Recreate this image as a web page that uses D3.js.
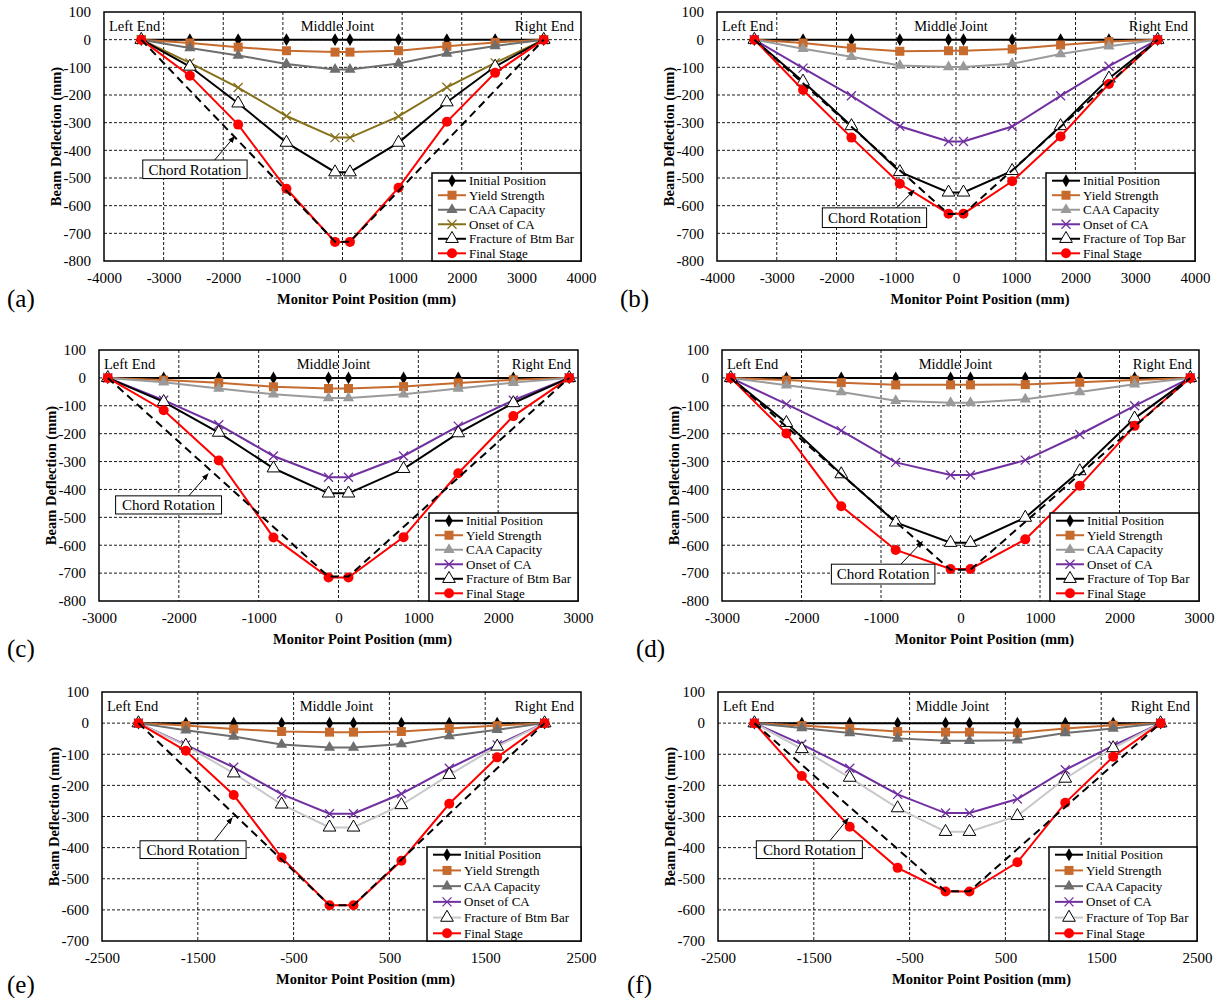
<!DOCTYPE html>
<html><head><meta charset="utf-8">
<script src="https://cdn.jsdelivr.net/npm/d3@7"></script>
<style>body{margin:0;background:#fff}svg{display:block}text{font-family:"Liberation Serif","Times New Roman",serif;fill:#000}</style>
</head><body><svg id="c" width="1221" height="998"></svg>
<script>
// ---------------- data ----------------
const posAB = [-3375,-2560,-1750,-940,-125,125,940,1750,2560,3375];
const posCD = [-2890,-2190,-1500,-815,-125,125,815,1500,2190,2890];
const posEF = [-2120,-1625,-1125,-625,-125,125,625,1125,1625,2120];
const xTicksAB = [-4000,-3000,-2000,-1000,0,1000,2000,3000,4000];
const xTicksCD = [-3000,-2000,-1000,0,1000,2000,3000];
const xTicksEF = [-2500,-1500,-500,500,1500,2500];
const yTicks8 = [-800,-700,-600,-500,-400,-300,-200,-100,0,100];
const yTicks7 = [-700,-600,-500,-400,-300,-200,-100,0,100];
const initialPos = [0,0,0,0,0,0,0,0,0,0];

const a_yield = [0,-12,-27,-40,-45,-45,-40,-24,-10,0];
const a_caa = [0,-30,-57,-88,-108,-108,-86,-50,-23,0];
const a_onset = [0,-84,-173,-276,-354,-354,-277,-172,-84,0];
const a_fracture = [0,-97,-230,-372,-479,-479,-372,-226,-97,0];
const a_final = [0,-130,-307,-539,-731,-731,-535,-297,-120,0];
const a_chord = [0,-730,-730,0];

const b_yield = [0,-12,-30,-42,-40,-40,-34,-19,-7,0];
const b_caa = [0,-33,-62,-93,-99,-99,-87,-52,-24,0];
const b_onset = [0,-103,-203,-313,-368,-368,-314,-203,-96,0];
const b_fracture = [0,-151,-312,-478,-552,-552,-474,-312,-140,0];
const b_final = [0,-182,-354,-521,-629,-629,-512,-350,-160,0];
const b_chord = [0,-630,-630,0];

const c_yield = [0,-8,-17,-32,-38,-38,-31,-18,-7,0];
const c_caa = [0,-16,-38,-59,-72,-72,-59,-38,-17,0];
const c_onset = [0,-80,-168,-280,-356,-356,-280,-173,-80,0];
const c_fracture = [0,-86,-196,-324,-414,-414,-326,-198,-90,0];
const c_final = [0,-116,-296,-572,-716,-716,-571,-342,-137,0];
const c_chord = [0,-712,-712,0];

const d_yield = [0,-8,-17,-25,-25,-25,-24,-16,-8,0];
const d_caa = [0,-26,-51,-82,-89,-89,-77,-51,-23,0];
const d_onset = [0,-94,-189,-303,-348,-348,-295,-203,-100,0];
const d_fracture = [0,-161,-345,-518,-591,-591,-501,-334,-145,0];
const d_final = [0,-199,-460,-617,-685,-685,-579,-387,-172,0];
const d_chord = [0,-688,-688,0];

const e_yield = [0,-8,-19,-27,-29,-29,-27,-17,-8,0];
const e_caa = [0,-23,-43,-69,-78,-78,-67,-41,-21,0];
const e_onset = [0,-70,-142,-228,-291,-291,-227,-145,-70,0];
const e_fracture = [0,-72,-161,-261,-335,-335,-263,-166,-75,0];
const e_final = [0,-89,-231,-432,-585,-585,-442,-259,-110,0];
const e_chord = [0,-585,-585,0];

const f_yield = [0,-8,-17,-27,-29,-29,-31,-17,-7,0];
const f_caa = [0,-16,-32,-49,-57,-57,-55,-32,-17,0];
const f_onset = [0,-68,-145,-229,-289,-289,-244,-150,-72,0];
const f_fracture = [0,-83,-175,-273,-349,-349,-298,-178,-80,0];
const f_final = [0,-170,-333,-465,-541,-541,-447,-256,-108,0];
const f_chord = [0,-540,-540,0];

const legendNames = ["Initial Position","Yield Strength","CAA Capacity","Onset of CA"];
const fractureBtm = "Fracture of Btm Bar", fractureTop = "Fracture of Top Bar", finalName = "Final Stage";

// ---------------- layout / styles ----------------
const C = {orange:"#c66a2e", dgray:"#6e6e6e", lgray:"#9a9a9a", olive:"#86701a", purple:"#7030a0", fgray:"#c8c8c8", red:"#ff0000"};
const panels = [
 {tag:"(a)", L:104,R:581,T:12,B:261, tx:7,ty:307, pos:posAB, xt:xTicksAB, yt:yTicks8,
  vals:[initialPos,a_yield,a_caa,a_onset,a_fracture,a_final], chord:a_chord, frName:fractureBtm,
  caa:C.dgray, onset:C.olive, fr:"#000", note:[-3350,-1600,-435,-502,-2144,-435,-1811,-350], lw:149, lh:88},
 {tag:"(b)", L:717,R:1195,T:12,B:261, tx:620,ty:307, pos:posAB, xt:xTicksAB, yt:yTicks8,
  vals:[initialPos,b_yield,b_caa,b_onset,b_fracture,b_final], chord:b_chord, frName:fractureTop,
  caa:C.lgray, onset:C.purple, fr:"#000", note:[-2237,-492,-608,-679,-995,-608,-702,-544], lw:149, lh:88},
 {tag:"(c)", L:99,R:578,T:350,B:601, tx:7,ty:657, pos:posCD, xt:xTicksCD, yt:yTicks8,
  vals:[initialPos,c_yield,c_caa,c_onset,c_fracture,c_final], chord:c_chord, frName:fractureBtm,
  caa:C.lgray, onset:C.purple, fr:"#000", note:[-2792,-1465,-423,-488,-1875,-423,-1634,-344], lw:149, lh:88},
 {tag:"(d)", L:722,R:1199,T:350,B:601, tx:636,ty:657, pos:posCD, xt:xTicksCD, yt:yTicks8,
  vals:[initialPos,d_yield,d_caa,d_onset,d_fracture,d_final], chord:d_chord, frName:fractureTop,
  caa:C.lgray, onset:C.purple, fr:"#000", note:[-1624,-322,-668,-739,-750,-668,-479,-587], lw:149, lh:88},
 {tag:"(e)", L:102,R:581,T:692,B:941, tx:7,ty:993, pos:posEF, xt:xTicksEF, yt:yTicks7,
  vals:[initialPos,e_yield,e_caa,e_onset,e_fracture,e_final], chord:e_chord, frName:fractureBtm,
  caa:C.dgray, onset:C.purple, fr:C.fgray, note:[-2103,-996,-378,-435,-1329,-378,-1141,-304], lw:154, lh:94},
 {tag:"(f)", L:718,R:1197,T:692,B:941, tx:627,ty:993, pos:posEF, xt:xTicksEF, yt:yTicks7,
  vals:[initialPos,f_yield,f_caa,f_onset,f_fracture,f_final], chord:f_chord, frName:fractureTop,
  caa:C.dgray, onset:C.purple, fr:C.fgray, note:[-2100,-993,-378,-435,-1332,-378,-1140,-306], lw:148, lh:94}
];

const svg = d3.select("#c");
svg.append("defs").append("marker").attr("id","arr").attr("viewBox","0 0 10 10")
  .attr("refX",9).attr("refY",5).attr("markerWidth",7).attr("markerHeight",7).attr("orient","auto")
  .append("path").attr("d","M0,1 L10,5 L0,9 Z").attr("fill","#000");

function marker(g, type, cx, cy, color) {
  if (type==="diamond") g.append("path").attr("d", d3.symbol(d3.symbolDiamond, 48)()).attr("transform",`translate(${cx},${cy})`).attr("fill",color);
  else if (type==="square") g.append("rect").attr("x",cx-4.5).attr("y",cy-4.5).attr("width",9).attr("height",9).attr("fill",color);
  else if (type==="tri") g.append("path").attr("d", d3.symbol(d3.symbolTriangle, 55)()).attr("transform",`translate(${cx},${cy})`).attr("fill",color);
  else if (type==="otri") g.append("path").attr("d", d3.symbol(d3.symbolTriangle, 70)()).attr("transform",`translate(${cx},${cy})`).attr("fill","#fff").attr("stroke","#000").attr("stroke-width",1);
  else if (type==="x") g.append("path").attr("d",`M${cx-4.5},${cy-4.5}L${cx+4.5},${cy+4.5}M${cx-4.5},${cy+4.5}L${cx+4.5},${cy-4.5}`).attr("stroke",color).attr("stroke-width",1.3);
  else if (type==="circle") g.append("circle").attr("cx",cx).attr("cy",cy).attr("r",5).attr("fill",color);
}

panels.forEach(p => {
  const g = svg.append("g");
  const x = d3.scaleLinear().domain([p.xt[0], p.xt[p.xt.length-1]]).range([p.L,p.R]);
  const y = d3.scaleLinear().domain([p.yt[0], 100]).range([p.B,p.T]);
  // grid
  g.selectAll(".vg").data(p.xt.slice(1,-1)).join("line")
    .attr("x1",d=>x(d)).attr("x2",d=>x(d)).attr("y1",p.T).attr("y2",p.B)
    .attr("stroke","#000").attr("stroke-width",0.9).attr("stroke-dasharray","3,2");
  g.selectAll(".hg").data(p.yt.slice(1,-1)).join("line")
    .attr("y1",d=>y(d)).attr("y2",d=>y(d)).attr("x1",p.L).attr("x2",p.R)
    .attr("stroke","#000").attr("stroke-width",0.9).attr("stroke-dasharray","3,2");
  // axes labels
  const ax = g.append("g").attr("transform",`translate(0,${p.B})`)
    .call(d3.axisBottom(x).tickValues(p.xt).tickSize(0).tickPadding(11.5).tickFormat(d=>String(d)));
  const ay = g.append("g").attr("transform",`translate(${p.L},0)`)
    .call(d3.axisLeft(y).tickValues(p.yt).tickSize(0).tickPadding(13).tickFormat(d=>String(d)));
  [ax,ay].forEach(a=>{a.select(".domain").remove(); a.selectAll("text").attr("font-size",15).attr("font-family","Liberation Serif").attr("fill","#000");});
  g.append("text").attr("x",(p.L+p.R)/2+24).attr("y",p.B+43).attr("text-anchor","middle")
    .attr("font-size",14.5).attr("font-weight","bold").text("Monitor Point Position (mm)");
  g.append("text").attr("transform",`translate(${p.L-48},${(p.T+p.B)/2}) rotate(-90)`).attr("text-anchor","middle")
    .attr("dy","0.35em").attr("font-size",14.5).attr("font-weight","bold").text("Beam Deflection (mm)");
  g.append("text").attr("x",p.tx).attr("y",p.ty).attr("font-size",25).text(p.tag);
  // location labels
  g.append("text").attr("x",p.L+5).attr("y",p.T+19).attr("font-size",14.5).text("Left End");
  g.append("text").attr("x",x(0)-5).attr("y",p.T+19).attr("text-anchor","middle").attr("font-size",14.5).text("Middle Joint");
  g.append("text").attr("x",p.R-7).attr("y",p.T+19).attr("text-anchor","end").attr("font-size",14.5).text("Right End");

  const styles = [
    {c:"#000", m:"diamond", mc:"#000"},
    {c:C.orange, m:"square", mc:C.orange},
    {c:p.caa, m:"tri", mc:p.caa},
    {c:p.onset, m:"x", mc:p.onset},
    {c:p.fr, m:"otri", mc:"#000"},
    {c:C.red, m:"circle", mc:C.red}
  ];
  const line = d3.line().x(d=>x(d[0])).y(d=>y(d[1]));
  p.vals.forEach((vals,i)=>{
    const pts = p.pos.map((px,k)=>[px, vals[k]]);
    g.append("path").attr("d",line(pts)).attr("fill","none").attr("stroke",styles[i].c).attr("stroke-width",2);
    pts.forEach(pt=>marker(g, styles[i].m, x(pt[0]), y(pt[1]), styles[i].mc));
  });
  // chord rotation dashed line
  const chX = [p.pos[0], p.pos[4], p.pos[5], p.pos[9]];
  g.append("path").attr("d", line(chX.map((cx,k)=>[cx,p.chord[k]]))).attr("fill","none")
    .attr("stroke","#000").attr("stroke-width",2).attr("stroke-dasharray","8,5");
  // annotation
  const n = p.note;
  g.append("line").attr("x1",x(n[4])).attr("y1",y(n[5])).attr("x2",x(n[6])).attr("y2",y(n[7]))
    .attr("stroke","#000").attr("stroke-width",1).attr("marker-end","url(#arr)");
  g.append("rect").attr("x",x(n[0])).attr("y",y(n[2])).attr("width",x(n[1])-x(n[0])).attr("height",y(n[3])-y(n[2]))
    .attr("fill","#fff").attr("stroke","#000").attr("stroke-width",1);
  g.append("text").attr("x",(x(n[0])+x(n[1]))/2).attr("y",(y(n[2])+y(n[3]))/2).attr("dy","0.35em")
    .attr("text-anchor","middle").attr("font-size",15).text("Chord Rotation");
  // frame
  g.append("rect").attr("x",p.L).attr("y",p.T).attr("width",p.R-p.L).attr("height",p.B-p.T)
    .attr("fill","none").attr("stroke","#000").attr("stroke-width",1.5);
  // legend
  const lx = p.R - p.lw, lt = p.B - p.lh;
  g.append("rect").attr("x",lx).attr("y",lt).attr("width",p.lw).attr("height",p.lh)
    .attr("fill","#fff").attr("stroke","#000").attr("stroke-width",1.5);
  const names = legendNames.concat([p.frName, finalName]);
  const rowH = (p.lh-15.4)/5;
  names.forEach((nm,i)=>{
    const ry = lt + 7.7 + i*rowH;
    g.append("line").attr("x1",lx+6).attr("x2",lx+34).attr("y1",ry).attr("y2",ry).attr("stroke",styles[i].c).attr("stroke-width",2);
    marker(g, styles[i].m, lx+20, ry, styles[i].mc);
    g.append("text").attr("x",lx+37).attr("y",ry).attr("dy","0.35em").attr("font-size",13).text(nm);
  });
});
</script></body></html>
